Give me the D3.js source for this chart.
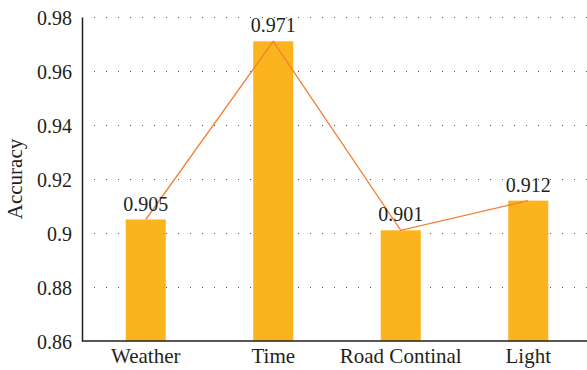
<!DOCTYPE html>
<html>
<head>
<meta charset="utf-8">
<script src="https://cdn.jsdelivr.net/npm/d3@7"></script>
<style>
  body { margin: 0; background: #fff; }
</style>
</head>
<body>
<div id="chart"></div>
<script>
const categories = ['Weather', 'Time', 'Road Continal', 'Light'];
const accuracy = [0.905, 0.971, 0.901, 0.912];
const yTicks = [0.86, 0.88, 0.9, 0.92, 0.94, 0.96, 0.98];

const conf = {
  width: 587,
  height: 370,
  margin: { top: 17, right: 0, bottom: 29, left: 82 }
};
const serif = "'Liberation Serif'";
const ink = '#231f20';

const svg = d3.select('#chart').append('svg')
  .attr('width', conf.width)
  .attr('height', conf.height);

const x = d3.scaleBand()
  .domain(categories)
  .range([conf.margin.left, conf.margin.left + 510])
  .paddingInner(0.686)
  .paddingOuter(0.343);

const y = d3.scaleLinear()
  .domain([0.86, 0.98])
  .range([conf.height - conf.margin.bottom, conf.margin.top]);

// dotted grid
svg.append('g')
  .selectAll('line')
  .data(yTicks.slice(1))
  .enter()
  .append('line')
  .attr('x1', conf.margin.left + 12)
  .attr('x2', conf.width)
  .attr('y1', d => y(d) + 0.5)
  .attr('y2', d => y(d) + 0.5)
  .attr('stroke', '#555')
  .attr('stroke-width', 1)
  .attr('stroke-dasharray', '1,11');

// bars
svg.append('g')
  .selectAll('rect')
  .data(categories)
  .enter()
  .append('rect')
  .attr('x', d => x(d))
  .attr('y', (d, i) => y(accuracy[i]))
  .attr('width', x.bandwidth())
  .attr('height', (d, i) => y(0.86) - y(accuracy[i]))
  .attr('fill', '#fbb41e');

// line through bar tops
const line = d3.line()
  .x((d, i) => x(categories[i]) + x.bandwidth() / 2)
  .y(d => y(d));

svg.append('path')
  .datum(accuracy)
  .attr('d', line)
  .attr('fill', 'none')
  .attr('stroke', '#f47e30')
  .attr('stroke-width', 1.3);

// value labels
svg.append('g')
  .selectAll('text')
  .data(categories)
  .enter()
  .append('text')
  .attr('x', d => x(d) + x.bandwidth() / 2)
  .attr('y', (d, i) => y(accuracy[i]) - 9)
  .attr('text-anchor', 'middle')
  .style('font-family', serif)
  .style('font-size', '20px')
  .style('fill', ink)
  .text((d, i) => String(accuracy[i]));

// axes
const yAxis = svg.append('g')
  .attr('transform', `translate(${conf.margin.left}, 0)`)
  .call(d3.axisLeft(y).tickValues(yTicks).tickSize(0).tickPadding(10).tickFormat(d3.format('')));
yAxis.select('.domain').attr('stroke', ink).attr('stroke-width', 1.5);
yAxis.selectAll('text')
  .style('font-family', serif)
  .style('font-size', '20px')
  .style('fill', ink)
  .attr('dy', '0.35em');

const xAxis = svg.append('g')
  .attr('transform', `translate(0, ${y(0.86)})`)
  .call(d3.axisBottom(x).tickSize(0).tickPadding(7));
xAxis.select('.domain').attr('d', `M${conf.margin.left},0H${conf.width}`)
  .attr('stroke', ink).attr('stroke-width', 1.5);
xAxis.selectAll('text')
  .style('font-family', serif)
  .style('font-size', '21px')
  .style('fill', ink)
  .attr('dy', '0.71em');

svg.append('text')
  .attr('transform', `translate(22, ${(y(0.86) + y(0.98)) / 2}) rotate(-90)`)
  .attr('text-anchor', 'middle')
  .style('font-family', serif)
  .style('font-size', '21px')
  .style('fill', ink)
  .text('Accuracy');
</script>
</body>
</html>
